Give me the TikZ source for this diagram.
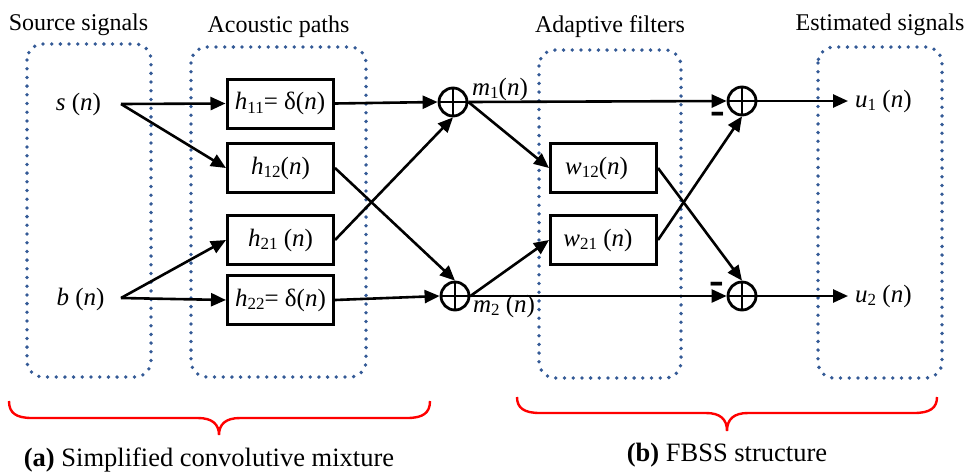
\documentclass[tikz,border=0pt]{standalone}
\usepackage{fontspec}
\setmainfont{Liberation Serif}
\usetikzlibrary{arrows.meta}
\definecolor{dotblue}{RGB}{52,90,150}
\newcommand{\sbs}[1]{\raisebox{-0.3ex}{\fontsize{17}{17}\selectfont #1}}
\newcommand{\iv}[1]{\textit{#1}}
\begin{document}
\begin{tikzpicture}[x=1pt,y=-1pt,
  every node/.style={font=\fontsize{25}{28}\selectfont},
  grp/.style={draw=dotblue, line width=3.8pt, dash pattern=on 0pt off 8.7pt, line cap=round, rounded corners=16pt},
  ttl/.style={font=\fontsize{24}{28}\selectfont, anchor=base},
  captxt/.style={font=\fontsize{26.5}{30}\selectfont, anchor=base},
  lbl/.style={anchor=base, inner sep=0pt},
  blk/.style={draw, line width=3pt, minimum width=106pt, minimum height=49pt, inner sep=0pt},
  sumn/.style={draw, circle, line width=2.8pt, minimum size=28pt, inner sep=0pt},
  sig/.style={line width=2.6pt, -{Triangle[length=15pt,width=13pt]}},
  plus/.style={line width=2.6pt},
  brc/.style={draw=red, line width=2.4pt},
  minus/.style={font=\fontsize{44}{44}\selectfont\bfseries, anchor=base, inner sep=0pt},
]
\useasboundingbox (0,0) rectangle (968,472);

% dotted groups
\draw[grp] (27,44) rectangle (151,377);
\draw[grp] (191,47) rectangle (366,377);
\draw[grp] (539,50) rectangle (681,378);
\draw[grp] (818,47) rectangle (942,378);

% titles
\node[ttl] (t1) at (78.5,30) {Source signals};
\node[ttl] (t2) at (278.5,32) {Acoustic paths};
\node[ttl] (t3) at (610,32) {Adaptive filters};
\node[ttl] (t4) at (880,30) {Estimated signals};

% sources
\node[lbl] (s) at (78.5,110) {\iv{s} (\iv{n})};
\node[lbl] (b) at (80.5,305) {\iv{b} (\iv{n})};
\coordinate (sout) at (121,104);
\coordinate (bout) at (121,298);

% acoustic blocks
\node[blk] (h11) at (280,103.5) {\iv{h}\sbs{11}= δ(\iv{n})};
\node[blk] (h12) at (280.5,168) {\iv{h}\sbs{12}(\iv{n})};
\node[blk] (h21) at (280.5,240) {\iv{h}\sbs{21} (\iv{n})};
\node[blk] (h22) at (280.5,300) {\iv{h}\sbs{22}= δ(\iv{n})};

% sums
\node[sumn] (s1) at (453,102) {};
\node[sumn] (s2) at (455,296) {};
\node[sumn] (s3) at (742,101) {};
\node[sumn] (s4) at (742,296) {};
\foreach \n in {s1,s2,s3,s4}{
  \draw[plus] (\n.north) -- (\n.south) (\n.west) -- (\n.east);
}

% adaptive blocks
\node[blk] (w12) at (603.5,168) {\iv{w}\sbs{12}(\iv{n})\kern14pt};
\node[blk] (w21) at (603.5,240) {\iv{w}\sbs{21} (\iv{n})\kern11pt};

% labels
\node[lbl] (m1) at (500,95) {\iv{m}\sbs{1}(\iv{n})};
\node[lbl] (m2) at (504,312) {\iv{m}\sbs{2} (\iv{n})};
\node[lbl, anchor=base west] (u1) at (855,107) {\iv{u}\sbs{1} (\iv{n})};
\node[lbl, anchor=base west] (u2) at (855,302) {\iv{u}\sbs{2} (\iv{n})};
\node[minus] (mn1) at (718,124) {-};
\node[minus] (mn2) at (717,294) {-};

% connectors
\draw[sig] (sout) -- (h11.west);
\draw[sig] (sout) -- (h12.west);
\draw[sig] (bout) -- (h21.west);
\draw[sig] (bout) -- (h22.west);
\draw[sig] (h11.east) -- (s1.west);
\draw[sig] (h22.east) -- (s2.west);
\draw[sig] (h12.east) -- (s2.north);
\draw[sig] (h21.east) -- (s1.south);
\draw[sig] (s1.east) -- (s3.west);
\draw[sig] (s2.east) -- (s4.west);
\draw[sig] (s1.east) -- (w12.west);
\draw[sig] (s2.east) -- (w21.west);
\draw[sig] (w12.east) -- (s4.north);
\draw[sig] (w21.east) -- (s3.south);
\draw[sig, shorten >=7pt] (s3.east) -- (u1.west |- s3.east);
\draw[sig, shorten >=7pt] (s4.east) -- (u2.west |- s4.east);

% braces
\draw[brc] (9,401) .. controls (9,413) and (16,418) .. (32,418) -- (198,418) .. controls (212,418) and (219,424) .. (219,435) .. controls (219,424) and (226,418) .. (240,418) -- (407,418) .. controls (423,418) and (430,413) .. (430,401);
\draw[brc] (517,397) .. controls (517,408) and (524,413) .. (540,413) -- (706,413) .. controls (720,413) and (727,419) .. (727,431) .. controls (727,419) and (734,413) .. (748,413) -- (914,413) .. controls (930,413) and (937,408) .. (937,397);

% captions
\node[captxt] (ca) at (209,466) {\textbf{(a)} Simplified convolutive mixture};
\node[captxt] (cb) at (727,461) {\textbf{(b)} FBSS structure};
\end{tikzpicture}
\end{document}
